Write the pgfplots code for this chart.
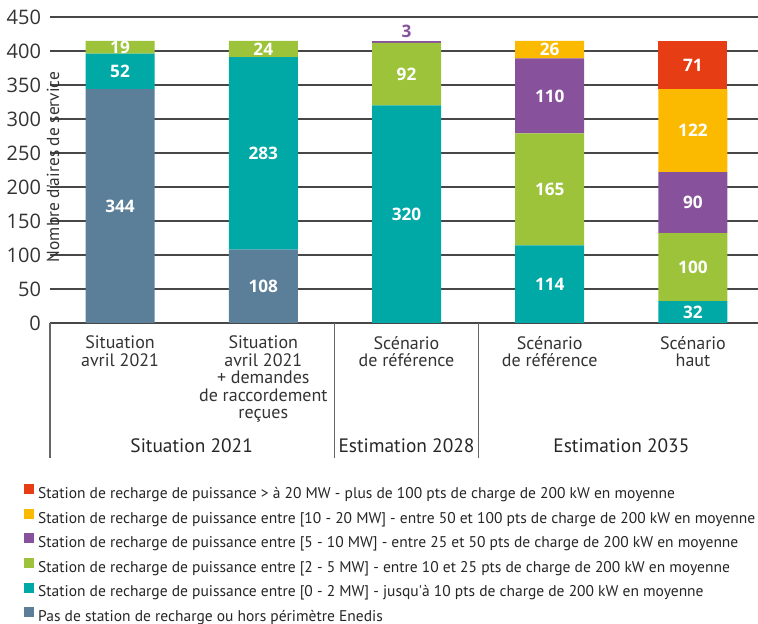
\documentclass[border=0pt]{standalone}
\usepackage{fontspec}
\setmainfont{Open Sans}
\newfontfamily\condfont{PT Sans}
\usepackage{pgfplots}
\pgfplotsset{compat=1.18}

\definecolor{greyE}{HTML}{5B7F99}
\definecolor{tealE}{HTML}{00A9A6}
\definecolor{greenE}{HTML}{9CC339}
\definecolor{purpleE}{HTML}{87529B}
\definecolor{orangeE}{HTML}{FBBA00}
\definecolor{redE}{HTML}{E63D14}

\begin{document}
\begin{tikzpicture}
\begin{axis}[
    scale only axis,
    width=354pt, height=153pt,
    ybar stacked,
    bar width=34.5pt,
    xmin=-0.489, xmax=4.454,
    ymin=0, ymax=450,
    ytick={0,50,...,450},
    xtick={0,...,4},
    xticklabels={{Situation\\avril 2021},
                 {Situation\\avril 2021\\+ demandes\\de raccordement\\reçues},
                 {Scénario\\de référence},
                 {Scénario\\de référence},
                 {Scénario\\haut}},
    axis line style={draw=none},
    tick style={draw=none},
    ymajorgrids,
    major grid style={color=black!72, line width=0.6pt},
    /pgf/number format/assume math mode=true,
    yticklabel style={font=\fontsize{10}{12}\selectfont, text=black!80, xshift=-1pt},
    xticklabel style={align=center, font=\condfont\fontsize{9}{8.7}\selectfont,
        text=black!80, anchor=north, yshift=-3pt},
    clip=false,
    point meta=explicit symbolic,
    nodes near coords,
    every node near coord/.append style={anchor=center, text=white,
        font=\bfseries\fontsize{8.6}{10}\selectfont},
    legend image code/.code={\fill[#1] (0pt,0pt) rectangle (5pt,5pt);},
    reverse legend,
    legend cell align=left,
    legend style={at={(-0.037,-0.526)}, anchor=north west, draw=none, inner sep=0pt,
        font=\condfont\fontsize{7.75}{9}\selectfont, text=black!85,
        row sep=3.4pt, column sep=2pt,
        nodes={inner sep=0pt, text height=6pt, text depth=1.75pt}},
]
\addplot[fill=greyE, draw=none] coordinates {(0,344)[344] (1,108)[108] (2,0)[] (3,0)[] (4,0)[]};
\addlegendentry{Pas de station de recharge ou hors périmètre Enedis}
\addplot[fill=tealE, draw=none] coordinates {(0,52)[52] (1,283)[283] (2,320)[320] (3,114)[114] (4,32)[32]};
\addlegendentry{Station de recharge de puissance entre [0 - 2 MW] - jusqu'à 10 pts de charge de 200 kW en moyenne}
\addplot[fill=greenE, draw=none] coordinates {(0,19)[19] (1,24)[24] (2,92)[92] (3,165)[165] (4,100)[100]};
\addlegendentry{Station de recharge de puissance entre [2 - 5 MW] - entre 10 et 25 pts de charge de 200 kW en moyenne}
\addplot[fill=purpleE, draw=none, forget plot,
    every node near coord/.style={anchor=south, text=purpleE, yshift=-1.5pt,
        font=\bfseries\fontsize{8.6}{10}\selectfont}]
    coordinates {(0,0)[] (1,0)[] (2,3)[3] (3,0)[] (4,0)[]};
\addplot[fill=purpleE, draw=none] coordinates {(0,0)[] (1,0)[] (2,0)[] (3,110)[110] (4,90)[90]};
\addlegendentry{Station de recharge de puissance entre [5 - 10 MW] - entre 25 et 50 pts de charge de 200 kW en moyenne}
\addplot[fill=orangeE, draw=none] coordinates {(0,0)[] (1,0)[] (2,0)[] (3,26)[26] (4,122)[122]};
\addlegendentry{Station de recharge de puissance entre [10 - 20 MW] - entre 50 et 100 pts de charge de 200 kW en moyenne}
\addplot[fill=redE, draw=none] coordinates {(0,0)[] (1,0)[] (2,0)[] (3,0)[] (4,71)[71]};
\addlegendentry{Station de recharge de puissance > à 20 MW - plus de 100 pts de charge de 200 kW en moyenne}

% axis title drawn as a node so that it can sit inside the plot area
\node[rotate=90, font=\condfont\fontsize{8.7}{9}\selectfont, text=black!80]
    at ([xshift=1.5pt]rel axis cs:0,0.51) {Nombre d'aires de service};
\draw[black!60, line width=0.6pt] (rel axis cs:0,0) -- ++(0pt,-67.5pt);
\draw[black!60, line width=0.6pt] (axis cs:1.5,0) -- ++(0pt,-67.5pt);
\draw[black!60, line width=0.6pt] (axis cs:2.5,0) -- ++(0pt,-67.5pt);
\node[font=\condfont\fontsize{9.7}{11}\selectfont, text=black!85] at ([yshift=-61.5pt]axis cs:0.5,0) {Situation 2021};
\node[font=\condfont\fontsize{9.7}{11}\selectfont, text=black!85] at ([yshift=-61.5pt]axis cs:2,0) {Estimation 2028};
\node[font=\condfont\fontsize{9.7}{11}\selectfont, text=black!85] at ([yshift=-61.5pt]axis cs:3.5,0) {Estimation 2035};
\end{axis}
\pgfresetboundingbox
\useasboundingbox ([shift={(-25pt,-150.5pt)}]current axis.south west) rectangle ([shift={(0pt,8.5pt)}]current axis.north east);
\end{tikzpicture}
\end{document}
